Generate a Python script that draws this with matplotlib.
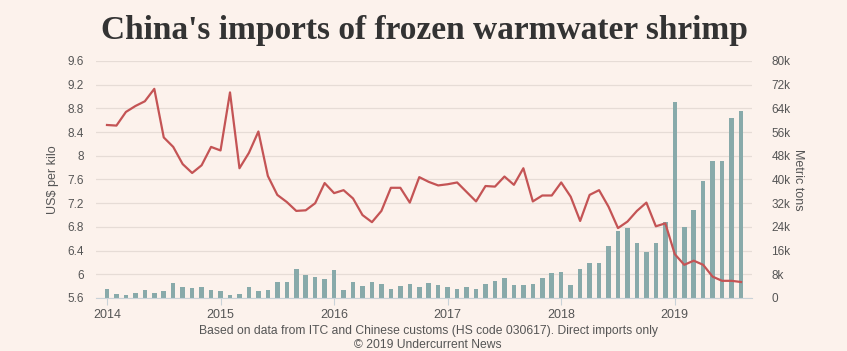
import numpy as np
import matplotlib.pyplot as plt

# Monatsdaten Jan 2014 - Aug 2019
preis = [8.52, 8.51, 8.74, 8.84, 8.92, 9.13, 8.31, 8.15, 7.86, 7.71, 7.84, 8.15,
         8.09, 9.07, 7.79, 8.05, 8.41, 7.66, 7.34, 7.22, 7.07, 7.08, 7.20, 7.54,
         7.37, 7.42, 7.28, 7.00, 6.88, 7.07, 7.46, 7.46, 7.21, 7.64, 7.56, 7.50,
         7.52, 7.55, 7.39, 7.23, 7.49, 7.48, 7.65, 7.51, 7.79, 7.23, 7.33, 7.33,
         7.55, 7.31, 6.90, 7.34, 7.42, 7.14, 6.78, 6.89, 7.07, 7.21, 6.81, 6.86,
         6.34, 6.16, 6.23, 6.16, 5.96, 5.89, 5.89, 5.87]
tonnen = [3.1, 1.35, 1.0, 1.7, 2.7, 1.7, 2.5, 5.2, 3.7, 3.4, 3.7, 2.8,
          2.5, 1.0, 1.35, 3.7, 2.4, 2.8, 5.5, 5.5, 9.8, 7.8, 7.1, 6.4,
          9.5, 2.7, 5.4, 4.1, 5.4, 4.7, 3.0, 4.1, 4.7, 3.7, 5.1, 4.4,
          3.7, 3.0, 3.7, 3.0, 4.7, 5.8, 6.8, 4.4, 4.4, 4.7, 6.8, 8.4,
          8.9, 4.4, 9.8, 11.9, 11.9, 17.7, 22.6, 23.7, 18.6, 15.6, 18.6, 25.5,
          66.2, 24.1, 29.7, 39.6, 46.2, 46.2, 60.8, 63.2]  # in Tausend
jahre = ['2014', '2015', '2016', '2017', '2018', '2019']
preis_ticks = [5.6, 6.0, 6.4, 6.8, 7.2, 7.6, 8.0, 8.4, 8.8, 9.2, 9.6]
preis_labels = ['5.6', '6', '6.4', '6.8', '7.2', '7.6', '8', '8.4', '8.8', '9.2', '9.6']
tonnen_ticks = [0, 8, 16, 24, 32, 40, 48, 56, 64, 72, 80]

hintergrund = '#fcf2ec'
textfarbe = '#555555'
schrift = ['Liberation Sans', 'DejaVu Sans']

monate = np.arange(len(preis))

fig = plt.figure(figsize=(8.47, 3.51), dpi=100, facecolor=hintergrund)
ax = fig.add_axes([96 / 847, 1 - 298 / 351, 656 / 847, 237 / 351])
ax2 = ax.twinx()
ax.set_zorder(ax2.get_zorder() + 1)
ax.patch.set_visible(False)
ax2.set_facecolor(hintergrund)

ax2.bar(monate, tonnen, width=0.48, color='#88aaaa', zorder=2)
ax2.set_ylim(0, 80)
ax2.set_yticks(tonnen_ticks)
ax2.set_yticklabels(['0' if t == 0 else f'{t}k' for t in tonnen_ticks])

ax.plot(monate, preis, color='#c45455', linewidth=1.6, zorder=3)
ax.set_ylim(5.6, 9.6)
ax.set_yticks(preis_ticks)
ax.set_yticklabels(preis_labels)
ax.set_xlim(-1.16, 68.16)
ax.set_xticks(np.arange(0, 72, 12))
ax.set_xticklabels(jahre)

ax2.yaxis.grid(True, color='#e6dcd6', linewidth=0.9, zorder=0)
ax2.set_axisbelow(True)

for a in (ax, ax2):
    for s in a.spines.values():
        s.set_visible(False)
    a.tick_params(axis='y', length=0, labelsize=8.5, labelcolor=textfarbe)
    for lbl in a.get_yticklabels():
        lbl.set_family(schrift)
ax.spines['bottom'].set_visible(True)
ax.spines['bottom'].set_color('#c9d2d8')
ax.tick_params(axis='x', length=5, color='#c9d2d8', labelsize=9, labelcolor=textfarbe, pad=3)
for lbl in ax.get_xticklabels():
    lbl.set_family(schrift)
ax.tick_params(axis='y', pad=9)
ax2.tick_params(axis='y', pad=14)

ax.set_ylabel('US$ per kilo', fontsize=9, color=textfarbe, family=schrift, labelpad=6)
ax2.set_ylabel('Metric tons', fontsize=9, color=textfarbe, family=schrift, rotation=-90, labelpad=10)

fig.text(424 / 847, 1 - 30 / 351, "China's imports of frozen warmwater shrimp",
         ha='center', va='center', fontsize=24, fontweight='bold', color='#333333',
         family=['Liberation Serif', 'DejaVu Serif'])
fig.text(428 / 847, 1 - 331 / 351,
         'Based on data from ITC and Chinese customs (HS code 030617). Direct imports only',
         ha='center', va='center', fontsize=8.7, color=textfarbe, family=schrift)
fig.text(428 / 847, 1 - 345 / 351, '\u00a9 2019 Undercurrent News',
         ha='center', va='center', fontsize=8.7, color=textfarbe, family=schrift)

fig.savefig('out.png', dpi=100, facecolor=hintergrund)
